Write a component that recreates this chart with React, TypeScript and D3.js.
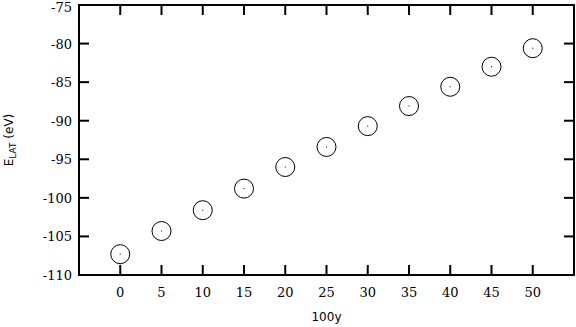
import React from 'react';
import * as d3 from 'd3';

const xValues = [0, 5, 10, 15, 20, 25, 30, 35, 40, 45, 50];
const yValues = [-107.3, -104.3, -101.6, -98.8, -96.0, -93.4, -90.7, -88.1, -85.6, -83.0, -80.6];
const xTicks = [0, 5, 10, 15, 20, 25, 30, 35, 40, 45, 50];
const yTicks = [-110, -105, -100, -95, -90, -85, -80, -75];

const W = 576;
const H = 327;
const margin = { left: 79, right: 2, top: 5, bottom: 52 };
const serif = "'DejaVu Serif', 'Liberation Serif', serif";
const sans = "'DejaVu Sans', 'Liberation Sans', sans-serif";
const tick = 10;

const App = () => {
    const x = d3.scaleLinear().domain([-5, 55]).range([margin.left, W - margin.right]);
    const y = d3.scaleLinear().domain([-110, -75]).range([H - margin.bottom, margin.top]);
    const [x0, x1] = x.range();
    const [y0, y1] = y.range();

    return (
        <svg width={W} height={H} style={{ position: 'absolute', left: 0, top: 0 }}>
            {/* ticks, inward on all four sides */}
            {xTicks.map(t => (
                <g key={'x' + t}>
                    <line x1={x(t)} x2={x(t)} y1={y0} y2={y0 - tick} stroke="#000" strokeWidth={2} />
                    <line x1={x(t)} x2={x(t)} y1={y1} y2={y1 + tick} stroke="#000" strokeWidth={2} />
                    <text x={x(t)} y={y0 + 22} textAnchor="middle" fontFamily={serif} fontSize={13}>{t}</text>
                </g>
            ))}
            {yTicks.map(t => (
                <g key={'y' + t}>
                    <line x1={x0} x2={x0 + tick} y1={y(t)} y2={y(t)} stroke="#000" strokeWidth={2} />
                    <line x1={x1} x2={x1 - tick} y1={y(t)} y2={y(t)} stroke="#000" strokeWidth={2} />
                    <text x={x0 - 7} y={Math.max(y(t) + 5, 12)} textAnchor="end" fontFamily={serif} fontSize={13}>{t}</text>
                </g>
            ))}

            {/* frame */}
            <rect x={x0} y={y1} width={x1 - x0} height={y0 - y1} fill="none" stroke="#000" strokeWidth={2} />

            {/* points */}
            {xValues.map((v, i) => (
                <g key={'p' + i} transform={`translate(${x(v)},${y(yValues[i])})`}>
                    <circle r={9.5} fill="none" stroke="#000" strokeWidth={1} />
                    <rect x={-0.5} y={-0.5} width={1} height={1} fill="#000" />
                </g>
            ))}

            {/* axis titles */}
            <text x={(x0 + x1) / 2} y={H - 6} textAnchor="middle" fontFamily={sans} fontSize={12}>100y</text>
            <text transform={`translate(13,${(y0 + y1) / 2}) rotate(-90)`} textAnchor="middle" fontFamily={sans} fontSize={12}>
                <tspan>E</tspan>
                <tspan fontSize={9} dy={3}>LAT</tspan>
                <tspan dy={-3}> (eV)</tspan>
            </text>
        </svg>
    );
};

export default App;
